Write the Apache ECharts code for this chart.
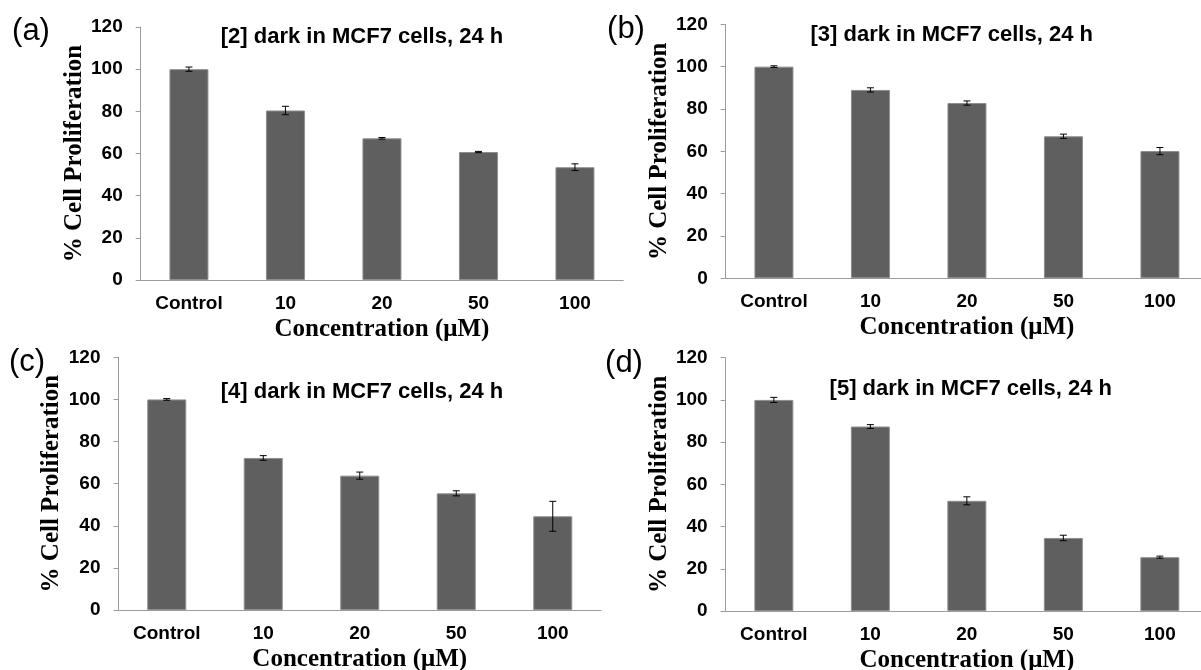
<!DOCTYPE html>
<html>
<head>
<meta charset="utf-8">
<script src="https://cdn.jsdelivr.net/npm/echarts@6/dist/echarts.min.js"></script>
<style>
  html, body { margin: 0; padding: 0; background: #ffffff; }
  #chart { width: 1201px; height: 670px; }
</style>
</head>
<body>
<div id="chart"></div>
<script>
// Concentration groups shared by all four panels
const categories = ['Control', '10', '20', '50', '100'];
const yTicks = [0, 20, 40, 60, 80, 100, 120];

const panelLetters = ['(a)', '(b)', '(c)', '(d)'];
const panelTitles = [
  '[2] dark in MCF7 cells, 24 h',
  '[3] dark in MCF7 cells, 24 h',
  '[4] dark in MCF7 cells, 24 h',
  '[5] dark in MCF7 cells, 24 h'
];

// % cell proliferation (mean) and error (±) per compound
const meansA = [100, 80.4, 67.2, 60.7, 53.5];
const errorsA = [1.0, 2.0, 0.4, 0.3, 1.6];

const meansB = [100, 89.0, 82.8, 67.1, 60.1];
const errorsB = [0.4, 1.0, 1.0, 1.0, 1.7];

const meansC = [100, 72.2, 63.8, 55.4, 44.5];
const errorsC = [0.4, 1.1, 1.7, 1.2, 7.1];

const meansD = [100, 87.4, 52.2, 34.6, 25.5];
const errorsD = [1.2, 0.9, 1.9, 1.3, 0.5];

const allMeans = [meansA, meansB, meansC, meansD];
const allErrors = [errorsA, errorsB, errorsC, errorsD];

// Plot rectangles for the 2x2 layout
const gridBoxes = [
  { left: 140.7, top: 27.0, width: 482.5, height: 253.0 },
  { left: 725.7, top: 24.3, width: 482.5, height: 254.0 },
  { left: 118.5, top: 357.3, width: 482.5, height: 252.7 },
  { left: 725.6, top: 357.7, width: 482.5, height: 253.3 }
];
const titlePos = [[362, 37], [951.7, 35], [362, 392], [970.8, 389]];
const letterPos = [[31, 31], [626, 29], [27, 362], [624, 363]];

const SANS = '"Liberation Sans", Arial, sans-serif';
const SERIF = '"Liberation Serif", "Times New Roman", serif';
const AXIS_GRAY = '#9c9c9c';

function renderErrorBar(params, api) {
  const x = api.value(0);
  const top = api.coord([x, api.value(2)]);
  const bottom = api.coord([x, api.value(1)]);
  const cap = 3.5;
  const style = { stroke: '#000000', lineWidth: 1 };
  return {
    type: 'group',
    children: [
      { type: 'line', shape: { x1: top[0], y1: top[1], x2: bottom[0], y2: bottom[1] }, style },
      { type: 'line', shape: { x1: top[0] - cap, y1: top[1], x2: top[0] + cap, y2: top[1] }, style },
      { type: 'line', shape: { x1: bottom[0] - cap, y1: bottom[1], x2: bottom[0] + cap, y2: bottom[1] }, style }
    ]
  };
}

const grid = [], xAxis = [], yAxis = [], series = [], graphic = [];

gridBoxes.forEach((box, i) => {
  grid.push(Object.assign({ containLabel: false, outerBoundsMode: 'none' }, box));

  xAxis.push({
    type: 'category',
    gridIndex: i,
    data: categories,
    boundaryGap: true,
    axisLine: { show: true, lineStyle: { color: AXIS_GRAY, width: 1.2 } },
    axisTick: { show: false },
    axisLabel: {
      margin: 14, color: '#000', fontFamily: SANS, fontWeight: 'bold', fontSize: 19
    },
    name: 'Concentration (μM)',
    nameLocation: 'middle',
    nameGap: 37,
    nameTextStyle: { color: '#000', fontFamily: SERIF, fontWeight: 'bold', fontSize: 25 }
  });

  yAxis.push({
    type: 'value',
    gridIndex: i,
    min: yTicks[0],
    max: yTicks[yTicks.length - 1],
    interval: yTicks[1] - yTicks[0],
    axisLine: { show: true, lineStyle: { color: AXIS_GRAY, width: 1 } },
    axisTick: { show: true, inside: false, length: 5, lineStyle: { color: AXIS_GRAY } },
    splitLine: { show: false },
    axisLabel: {
      margin: 18, color: '#000', fontFamily: SANS, fontWeight: 'bold', fontSize: 19
    },
    name: '% Cell Proliferation',
    nameLocation: 'middle',
    nameGap: 54,
    nameTextStyle: { color: '#000', fontFamily: SERIF, fontWeight: 'bold', fontSize: 25 }
  });

  series.push({
    type: 'bar',
    xAxisIndex: i,
    yAxisIndex: i,
    data: allMeans[i],
    barWidth: 39,
    itemStyle: { color: '#5f5f5f', borderColor: '#8e8e8e', borderWidth: 1 },
    silent: true
  });

  series.push({
    type: 'custom',
    xAxisIndex: i,
    yAxisIndex: i,
    renderItem: renderErrorBar,
    encode: { x: 0, y: [1, 2] },
    data: allMeans[i].map((m, k) => [k, m - allErrors[i][k], m + allErrors[i][k]]),
    z: 10,
    silent: true
  });

  graphic.push({
    type: 'text',
    x: titlePos[i][0],
    y: titlePos[i][1],
    style: {
      text: panelTitles[i], fill: '#000', fontFamily: SANS, fontWeight: 'bold', fontSize: 22,
      align: 'center', verticalAlign: 'middle'
    }
  });
  graphic.push({
    type: 'text',
    x: letterPos[i][0],
    y: letterPos[i][1],
    style: {
      text: panelLetters[i], fill: '#000', fontFamily: SANS, fontWeight: 'normal', fontSize: 31,
      align: 'center', verticalAlign: 'middle'
    }
  });
});

const chart = echarts.init(document.getElementById('chart'), null, { renderer: 'canvas' });
chart.setOption({
  animation: false,
  backgroundColor: '#ffffff',
  grid, xAxis, yAxis, series, graphic
});
</script>
</body>
</html>
